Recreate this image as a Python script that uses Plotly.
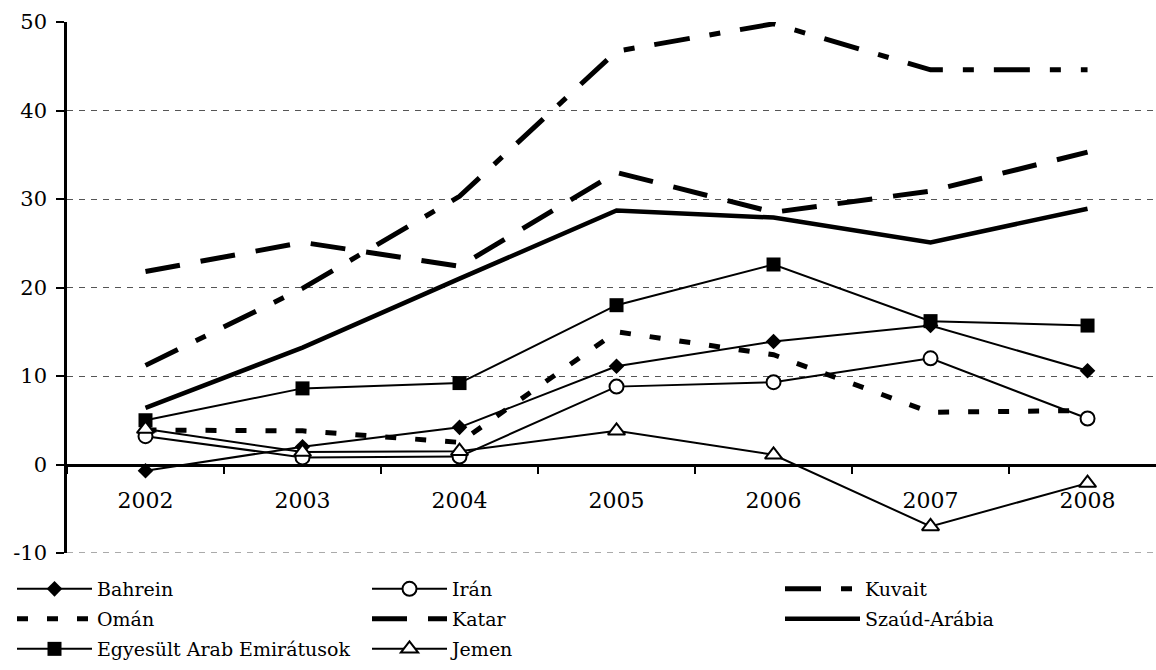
import plotly.graph_objects as go

# Annual values per country (%), 2002-2008
years = ["2002", "2003", "2004", "2005", "2006", "2007", "2008"]
bahrein = [-0.7, 2.0, 4.2, 11.1, 13.9, 15.7, 10.6]
iran = [3.2, 0.8, 0.9, 8.8, 9.3, 12.0, 5.2]
kuvait = [11.2, 19.9, 30.3, 46.7, 49.8, 44.6, 44.6]
oman = [3.9, 3.8, 2.5, 15.0, 12.4, 5.9, 6.1]
katar = [21.8, 25.1, 22.4, 33.0, 28.5, 30.9, 35.3]
szaud = [6.4, 13.2, 21.0, 28.7, 27.9, 25.1, 28.9]
eae = [5.0, 8.6, 9.2, 18.0, 22.6, 16.2, 15.7]
jemen = [4.0, 1.4, 1.5, 3.8, 1.1, -7.0, -2.1]

y_ticks = [-10, 0, 10, 20, 30, 40, 50]
y_tick_labels = ["-10", "0", "10", "20", "30", "40", "50"]

FONT = "DejaVu Serif"
W, H = 1156, 670
GRID = dict(color="#555", width=1, dash="6px,6px")

# (name, values, line style, marker, legend column, legend row)
series = [
    ("Bahrein", bahrein, dict(color="black", width=2),
     dict(symbol="diamond", size=12, color="black"), 0, 0),
    ("Irán", iran, dict(color="black", width=2),
     dict(symbol="circle", size=14, color="white", line=dict(color="black", width=2)), 1, 0),
    ("Kuvait", kuvait, dict(color="black", width=5, dash="36px,20px,11px,20px"),
     None, 2, 0),
    ("Omán", oman, dict(color="black", width=5, dash="11px,19px"),
     None, 0, 1),
    ("Katar", katar, dict(color="black", width=5, dash="35px,21px"),
     None, 1, 1),
    ("Szaúd-Arábia", szaud, dict(color="black", width=4.5),
     None, 2, 1),
    ("Egyesült Arab Emirátusok", eae, dict(color="black", width=2),
     dict(symbol="square", size=14, color="black"), 0, 2),
    ("Jemen", jemen, dict(color="black", width=2),
     dict(symbol="triangle-up", size=15, color="white", line=dict(color="black", width=2)), 1, 2),
]

col_x = [12, 367, 780]
row_y = [589, 619, 649]

fig = go.Figure()
layout_legends = {}
for i, (name, vals, line, marker, col, row) in enumerate(series):
    key = "legend" if i == 0 else f"legend{i + 1}"
    kw = dict(mode="lines+markers", marker=marker) if marker else dict(mode="lines")
    fig.add_trace(go.Scatter(
        x=years, y=vals, name=name, line=line, legend=key,
        cliponaxis=False, **kw,
    ))
    layout_legends[key] = dict(
        xref="container", yref="container",
        x=col_x[col] / W, y=1 - row_y[row] / H,
        xanchor="left", yanchor="middle",
        orientation="v", itemwidth=75,
        bgcolor="rgba(0,0,0,0)", borderwidth=0,
        font=dict(family=FONT, size=19, color="black"),
        itemclick=False, itemdoubleclick=False,
    )

fig.update_layout(
    width=W, height=H,
    margin=dict(l=67, r=0, t=22, b=117, autoexpand=False),
    paper_bgcolor="white", plot_bgcolor="white",
    font=dict(family=FONT, size=21, color="black"),
    showlegend=True,
    **layout_legends,
)

# dashed gridline along the bottom edge of the value range
fig.add_shape(type="line", xref="paper", yref="y", x0=0, x1=1,
              y0=y_ticks[0], y1=y_ticks[0], line=GRID, layer="below")

fig.update_xaxes(
    type="category",
    range=[-0.5, 6.436],
    anchor="free", position=1 / 6,
    showline=True, linecolor="black", linewidth=2.5,
    ticks="outside", tickson="boundaries", ticklen=8, tickwidth=2, tickcolor="black",
    ticklabelstandoff=15, tickangle=0,
    showgrid=False, zeroline=False,
    layer="below traces",
    tickfont=dict(family=FONT, size=22, color="black"),
)

fig.update_yaxes(
    range=[-10, 50],
    tickmode="array", tickvals=y_ticks, ticktext=y_tick_labels,
    showline=True, linecolor="black", linewidth=2.5,
    ticks="outside", ticklen=8, tickwidth=2, tickcolor="black",
    ticklabelstandoff=5,
    showgrid=True, gridcolor=GRID["color"], gridwidth=GRID["width"], griddash=GRID["dash"],
    zeroline=False,
    tickfont=dict(family=FONT, size=21, color="black"),
)

fig.write_html("out.html")
